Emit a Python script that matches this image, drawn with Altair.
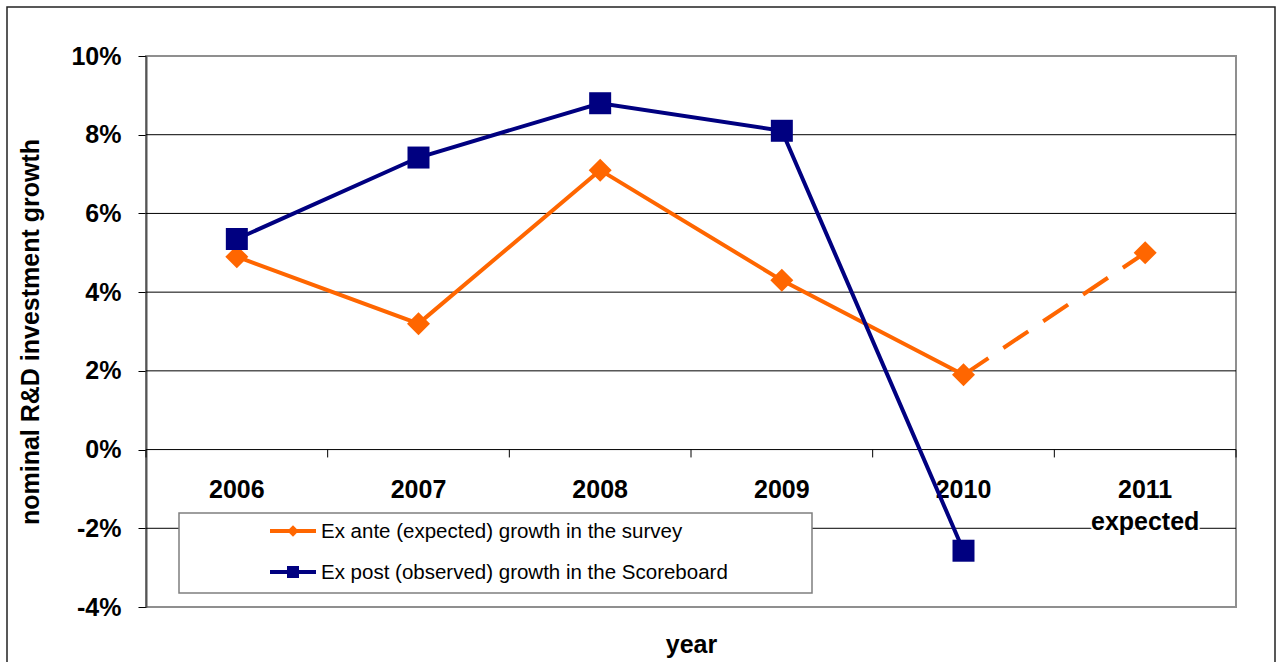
import altair as alt
import pandas as pd

# ---- data -------------------------------------------------------------
years = ["2006", "2007", "2008", "2009", "2010", "2011"]
year_labels = ["2006", "2007", "2008", "2009", "2010", "2011\nexpected"]
ex_ante = [4.9, 3.2, 7.1, 4.3, 1.9, 5.0]        # survey expectations, %
ex_post = [5.35, 7.42, 8.8, 8.1, -2.57]          # observed in the Scoreboard, %
series_names = [
    "Ex ante (expected) growth in the survey",
    "Ex post (observed) growth in the Scoreboard",
]
y_ticks = [-4, -2, 0, 2, 4, 6, 8, 10]
grid_values = [-2, 0, 2, 4, 6, 8]

# ---- style ------------------------------------------------------------
ORANGE = "#FF6600"
NAVY = "#000080"
FONT = "Liberation Sans"
BIG = 25
W, H = 1090, 551

ante = pd.DataFrame({"i": range(len(ex_ante)), "year": years, "v": ex_ante})
post = pd.DataFrame({"i": range(len(ex_post)), "year": years[:len(ex_post)], "v": ex_post})
ante_solid = ante.iloc[:len(ex_post)]
ante_dash = ante.iloc[len(ex_post) - 1:]
labels = pd.DataFrame({"i": range(len(years)), "label": year_labels, "zero": 0})
grid = pd.DataFrame({"g": grid_values})
bounds = pd.DataFrame({"b": [k - 0.5 for k in range(len(years) + 1)], "y0": 0, "y1": -0.2})

x_scale = alt.Scale(domain=[-0.5, len(years) - 0.5], nice=False, zero=False)
y_scale = alt.Scale(domain=[-4, 10], nice=False, zero=False)

x_axis = alt.Axis(
    title="year", labels=False, ticks=False, domain=False, grid=False,
    titleFont=FONT, titleFontSize=BIG, titleFontWeight="bold", titleColor="black",
    titleX=W / 2, titleY=45, titleAlign="center", titleBaseline="alphabetic",
)
y_axis = alt.Axis(
    values=y_ticks, labelExpr="datum.value + '%'",
    title="nominal R&D investment growth",
    titleFont=FONT, titleFontSize=BIG, titleFontWeight="bold", titleColor="black",
    titleAngle=270, titleX=-116, titleY=H / 2, titleAlign="center", titleBaseline="middle",
    labelFont=FONT, labelFontSize=BIG, labelFontWeight="bold", labelColor="black",
    labelPadding=17, tickSize=8, tickColor="black", tickWidth=1,
    domainColor="#555555", domainWidth=2, grid=False,
)


def X(field):
    return alt.X(field, type="quantitative", scale=x_scale, axis=x_axis)


def Y(field):
    return alt.Y(field, type="quantitative", scale=y_scale, axis=y_axis)


# outer frame around the whole figure
frame = alt.Chart(pd.DataFrame({"f": [0]})).mark_rect(
    fill="transparent", stroke="#222222", strokeWidth=1.5
).encode(x=alt.value(-139), x2=alt.value(1129), y=alt.value(-49), y2=alt.value(640))

gridlines = alt.Chart(grid).mark_rule(color="black", strokeWidth=1).encode(y=Y("g"))

cat_ticks = alt.Chart(bounds).mark_rule(color="black", strokeWidth=1).encode(
    x=X("b"), y=Y("y0"), y2="y1"
)

label_style = dict(font=FONT, fontSize=BIG, fontWeight="bold", align="center",
                   baseline="alphabetic", dy=48, lineBreak="\n", lineHeight=32)
cat_halo = alt.Chart(labels).mark_text(color="white", stroke="white", strokeWidth=4,
                                       **label_style).encode(x=X("i"), y=Y("zero"), text="label")
cat_text = alt.Chart(labels).mark_text(color="black", **label_style).encode(
    x=X("i"), y=Y("zero"), text="label")

ante_line = alt.Chart(ante_solid).mark_line(color=ORANGE, strokeWidth=4).encode(x=X("i"), y=Y("v"))
ante_dashed = alt.Chart(ante_dash).mark_line(
    color=ORANGE, strokeWidth=4, strokeDash=[30, 18], strokeCap="butt"
).encode(x=X("i"), y=Y("v"))
ante_pts = alt.Chart(ante).mark_point(
    shape="diamond", filled=True, size=529, color=ORANGE, opacity=1
).encode(x=X("i"), y=Y("v"))

post_line = alt.Chart(post).mark_line(color=NAVY, strokeWidth=4).encode(x=X("i"), y=Y("v"))
post_pts = alt.Chart(post).mark_point(
    shape="square", filled=True, size=484, color=NAVY, opacity=1
).encode(x=X("i"), y=Y("v"))

# legend box in the lower-left part of the plot
legend_layers = [
    alt.Chart(pd.DataFrame({"f": [0]})).mark_rect(
        fill="white", stroke="#7f7f7f", strokeWidth=1.5
    ).encode(x=alt.value(33), x2=alt.value(666), y=alt.value(457), y2=alt.value(537))
]
for k, (name, col, shp, sz) in enumerate(
    zip(series_names, [ORANGE, NAVY], ["diamond", "square"], [130, 144])
):
    ly = 475 + 41 * k
    d = pd.DataFrame({"name": [name]})
    legend_layers.append(
        alt.Chart(d).mark_rule(color=col, strokeWidth=4).encode(
            x=alt.value(124), x2=alt.value(170), y=alt.value(ly))
    )
    legend_layers.append(
        alt.Chart(d).mark_point(shape=shp, filled=True, size=sz, color=col, opacity=1).encode(
            x=alt.value(147), y=alt.value(ly))
    )
    legend_layers.append(
        alt.Chart(d).mark_text(font=FONT, fontSize=20.5, color="black", align="left",
                               baseline="alphabetic").encode(
            x=alt.value(175), y=alt.value(ly + 7), text="name")
    )

chart = alt.layer(
    frame, gridlines, cat_ticks, cat_halo, cat_text,
    ante_line, ante_dashed, ante_pts, post_line, post_pts,
    *legend_layers,
).properties(
    width=W, height=H,
    padding={"left": 146, "top": 56, "right": 41, "bottom": 55},
    autosize=alt.AutoSizeParams(type="none"),
    background="white",
).configure_view(stroke="#8f8f8f", strokeWidth=2)

chart.save("out.html", embed_options={"renderer": "svg", "actions": False})
